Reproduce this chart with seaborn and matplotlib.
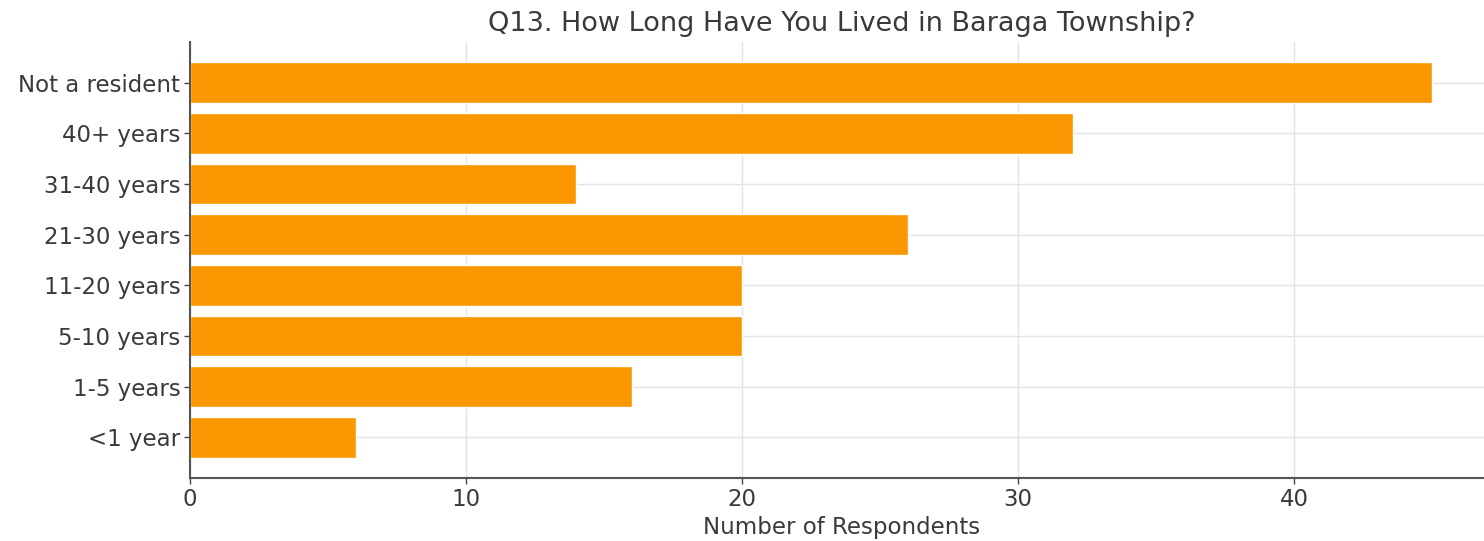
import matplotlib
matplotlib.use("Agg")
import matplotlib.pyplot as plt
import seaborn as sns
import pandas as pd

# Survey answers, top to bottom as shown
categories = ["Not a resident", "40+ years", "31-40 years", "21-30 years",
              "11-20 years", "5-10 years", "1-5 years", "<1 year"]
counts = [45, 32, 14, 26, 20, 20, 16, 6]

title = "Q13. How Long Have You Lived in Baraga Township?"
xlabel = "Number of Respondents"

df = pd.DataFrame({"Category": categories, "Respondents": counts})

sns.set_theme(style="whitegrid")
plt.rcParams['font.family'] = ['DejaVu Sans']

fig = plt.figure(figsize=(14.84, 5.41), dpi=100)
# axes runs slightly past the right edge, like the cropped original
ax = fig.add_axes([190 / 1484, 63 / 541, 1304 / 1484, 436 / 541])

sns.barplot(data=df, x="Respondents", y="Category", orient="h",
            color="#FA9600", saturation=1, width=0.8, ax=ax)

# matplotlib-style 5% margins instead of seaborn's tight categorical limits
n = len(categories)
pad = 0.05 * n
ax.set_ylim(n - 0.6 + pad, -0.4 - pad)

ax.set_title(title, fontsize=19.5, color="#3a3a3a", pad=8)
ax.set_xlabel(xlabel, fontsize=16.5, color="#3a3a3a", labelpad=4)
ax.set_ylabel("")
ax.set_xticks([0, 10, 20, 30, 40])
ax.tick_params(axis="both", labelsize=16.5, labelcolor="#3a3a3a",
               length=4, width=1, color="#444444", left=True, bottom=True, pad=3)

ax.grid(True, axis="both", color="#e3e3e3", linewidth=1)
ax.set_axisbelow(True)
sns.despine(ax=ax, top=True, right=True)
for side in ["left", "bottom"]:
    ax.spines[side].set_color("#555555")
    ax.spines[side].set_linewidth(1.5)

fig.savefig("out.png", dpi=100)
